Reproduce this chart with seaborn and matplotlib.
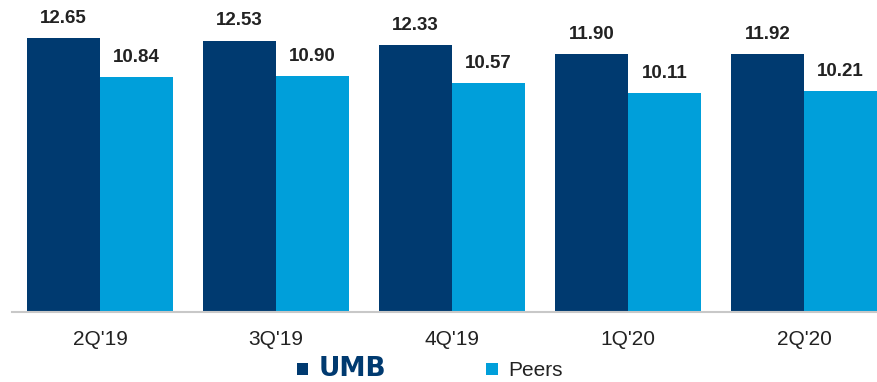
import matplotlib
matplotlib.use("Agg")
import matplotlib.pyplot as plt
import seaborn as sns
import pandas as pd
from matplotlib.patches import Patch

quarters = ["2Q'19", "3Q'19", "4Q'19", "1Q'20", "2Q'20"]
umb = [12.65, 12.53, 12.33, 11.90, 11.92]
peers = [10.84, 10.90, 10.57, 10.11, 10.21]
series_names = ["UMB", "Peers"]
colors = ["#003A70", "#009FDA"]

df = pd.DataFrame({
    "quarter": quarters * 2,
    "value": umb + peers,
    "series": [series_names[0]] * len(quarters) + [series_names[1]] * len(quarters),
})

sns.set_theme(style="white")
plt.rcParams['font.family'] = ['Liberation Sans', 'DejaVu Sans']

fig = plt.figure(figsize=(8.77, 3.82), dpi=100)
ax = fig.add_axes([12 / 877, 1 - 312 / 382, 1 - 12 / 877, 312 / 382])

sns.barplot(data=df, x="quarter", y="value", hue="series", palette=colors,
            width=0.83, gap=0, saturation=1, linewidth=0, ax=ax, legend=False)

for cont in ax.containers:
    ax.bar_label(cont, fmt="%.2f", padding=8, fontsize=13.5, fontweight="bold", color="#222222")

ax.set_ylim(0, 14.4)
ax.set_xlim(-0.5, 4.415)
ax.set_xlabel("")
ax.set_ylabel("")
ax.set_yticks([])
for s in ["top", "left", "right"]:
    ax.spines[s].set_visible(False)
ax.spines["bottom"].set_color("#C8C8C8")
ax.spines["bottom"].set_linewidth(1.5)
ax.tick_params(axis="x", length=0, pad=13, labelsize=15, labelcolor="#222222")

handles = [Patch(facecolor=c, edgecolor="none") for c in colors]
leg = fig.legend(handles, series_names, loc="lower center", bbox_to_anchor=(0.49, -0.05),
                 ncol=2, frameon=False, handlelength=0.55, handleheight=0.55,
                 handletextpad=0.5, columnspacing=4.8, fontsize=15)
t = leg.get_texts()[0]
t.set_color("#003A70")
t.set_fontweight("heavy")
t.set_fontsize(19)
t.set_family("DejaVu Sans")
leg.get_texts()[1].set_color("#222222")

fig.savefig("out.png", dpi=100)
